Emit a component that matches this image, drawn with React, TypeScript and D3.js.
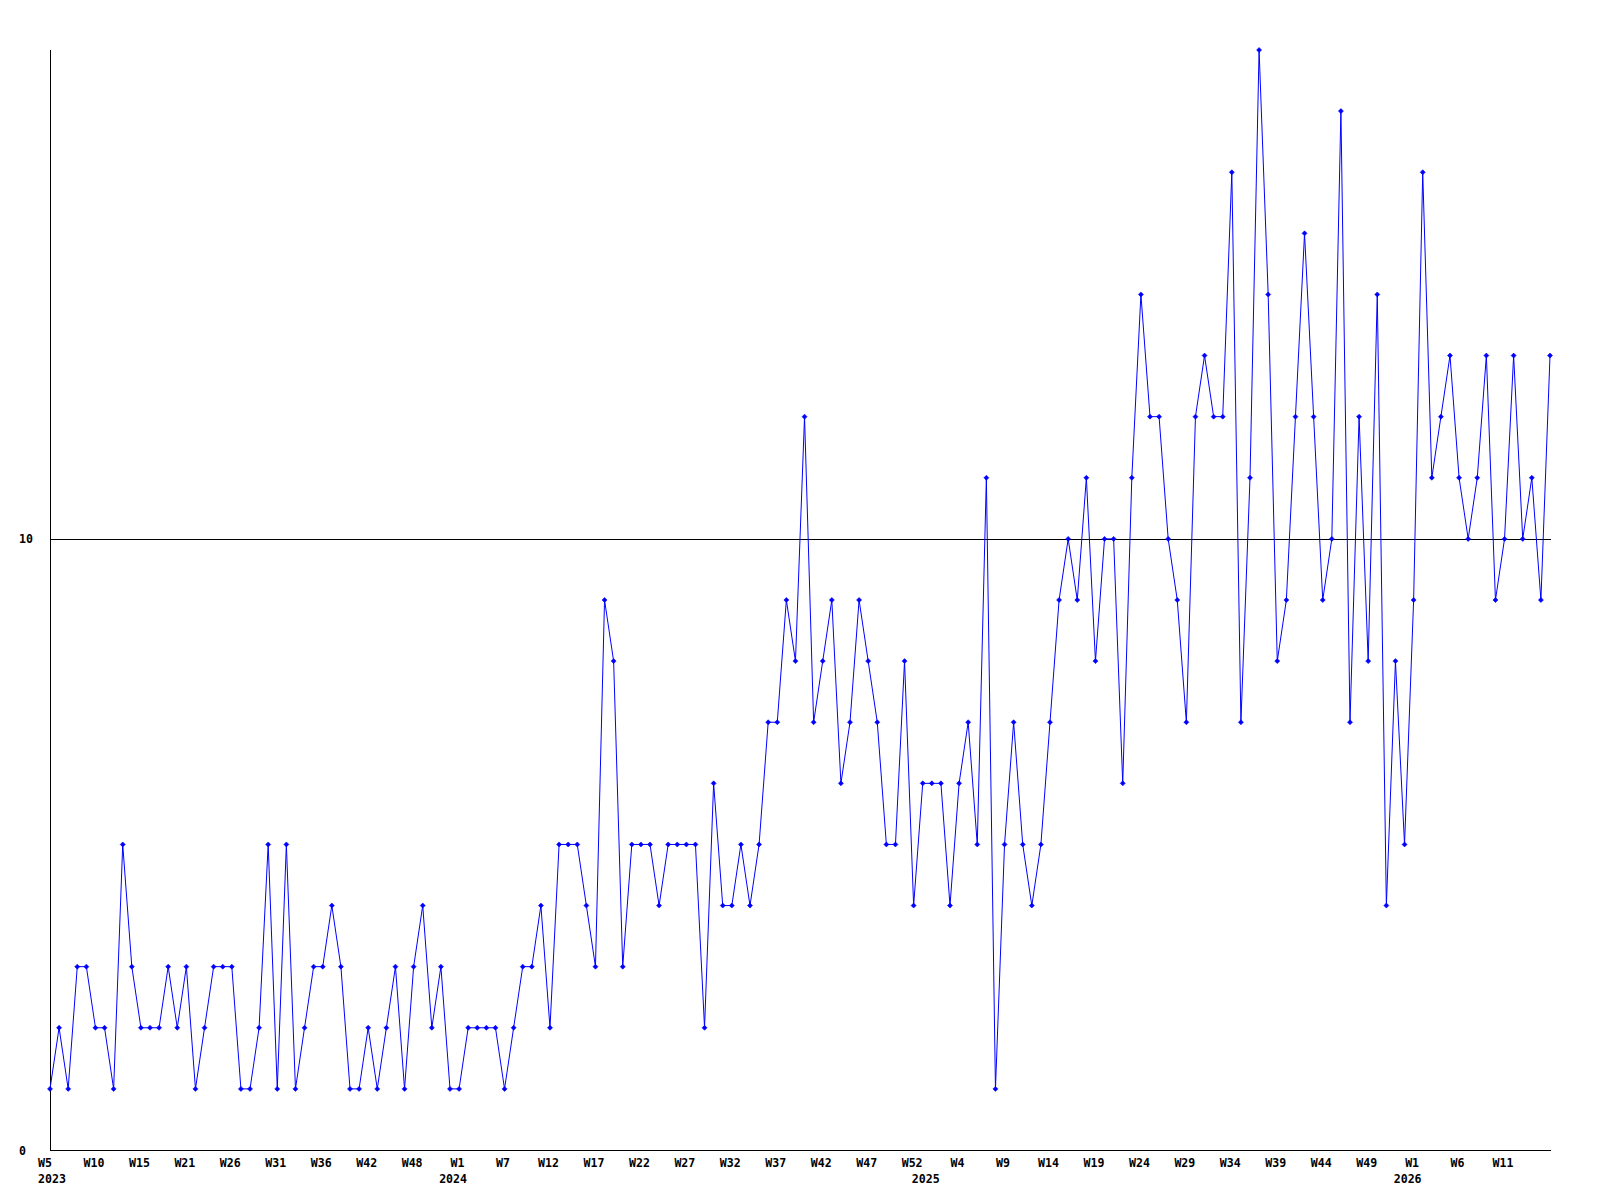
import React from "react";
import * as d3 from "d3";

// Weekly values, W5 2023 onward (one point per period)
const values: number[] = [
  1, 2, 1, 3, 3, 2, 2, 1, 5, 3,
  2, 2, 2, 3, 2, 3, 1, 2, 3, 3,
  3, 1, 1, 2, 5, 1, 5, 1, 2, 3,
  3, 4, 3, 1, 1, 2, 1, 2, 3, 1,
  3, 4, 2, 3, 1, 1, 2, 2, 2, 2,
  1, 2, 3, 3, 4, 2, 5, 5, 5, 4,
  3, 9, 8, 3, 5, 5, 5, 4, 5, 5,
  5, 5, 2, 6, 4, 4, 5, 4, 5, 7,
  7, 9, 8, 12, 7, 8, 9, 6, 7, 9,
  8, 7, 5, 5, 8, 4, 6, 6, 6, 4,
  6, 7, 5, 11, 1, 5, 7, 5, 4, 5,
  7, 9, 10, 9, 11, 8, 10, 10, 6, 11,
  14, 12, 12, 10, 9, 7, 12, 13, 12, 12,
  16, 7, 11, 18, 14, 8, 9, 12, 15, 12,
  9, 10, 17, 7, 12, 8, 14, 4, 8, 5,
  9, 16, 11, 12, 13, 11, 10, 11, 13, 9,
  10, 13, 10, 11, 9, 13,
];

// Week tick labels, every 5th point
const weekLabels: string[] = [
  "W5", "W10", "W15", "W21", "W26", "W31", "W36", "W42", "W48",
  "W1", "W7", "W12", "W17", "W22", "W27", "W32", "W37", "W42", "W47", "W52",
  "W4", "W9", "W14", "W19", "W24", "W29", "W34", "W39", "W44", "W49",
  "W1", "W6", "W11",
];
const weekLabelStep = 5;

// Year labels and the point index they sit under
const yearLabels: string[] = ["2023", "2024", "2025", "2026"];
const yearIndices: number[] = [0, 45, 97, 150];

// Y axis labels / gridlines
const yTicks: number[] = [0, 10];
const yMax = 18;

const W = 1600;
const H = 1200;
const left = 50;
const right = 1550;
const top = 50;
const bottom = 1150;
const FONT = "'DejaVu Sans Mono', monospace";
const FS = 11.6;

export default function App() {
  const x = d3.scaleLinear().domain([0, values.length - 1]).range([left, right]);
  const y = d3.scaleLinear().domain([0, yMax]).range([bottom, top]);

  const line = d3
    .line<number>()
    .x((_, i) => x(i))
    .y((d) => y(d));

  const firstLabelStart = x(0) - 12;

  return (
    <svg
      width={W}
      height={H}
      style={{ position: "absolute", left: 0, top: 0, background: "#fff" }}
      fontFamily={FONT}
    >
      <rect x={0} y={0} width={W} height={H} fill="#fff" />
      {/* gridlines */}
      {yTicks
        .filter((t) => t > 0)
        .map((t) => (
          <line
            key={"g" + t}
            x1={left}
            x2={right + 1}
            y1={Math.round(y(t)) + 0.5}
            y2={Math.round(y(t)) + 0.5}
            stroke="#000"
            strokeWidth={1}
            shapeRendering="crispEdges"
          />
        ))}
      {/* axes */}
      <line
        x1={left + 0.5}
        x2={left + 0.5}
        y1={top}
        y2={bottom + 1}
        stroke="#000"
        strokeWidth={1}
        shapeRendering="crispEdges"
      />
      <line
        x1={left}
        x2={right + 1}
        y1={bottom + 0.5}
        y2={bottom + 0.5}
        stroke="#000"
        strokeWidth={1}
        shapeRendering="crispEdges"
      />
      {/* y labels */}
      {yTicks.map((t) => (
        <text
          key={"y" + t}
          x={19}
          y={y(t) + 4.5}
          fontSize={FS}
          fontWeight="bold"
          fill="#000"
        >
          {t}
        </text>
      ))}
      {/* week labels */}
      {weekLabels.map((lab, k) => {
        const i = k * weekLabelStep;
        const first = k === 0;
        return (
          <text
            key={"w" + k}
            x={first ? firstLabelStart : x(i) - 1.5}
            y={1167}
            fontSize={FS}
            fontWeight="bold"
            textAnchor={first ? "start" : "middle"}
            fill="#000"
          >
            {lab}
          </text>
        );
      })}
      {/* year labels */}
      {yearLabels.map((lab, k) => {
        const i = yearIndices[k];
        const first = i === 0;
        return (
          <text
            key={"yr" + k}
            x={first ? firstLabelStart : x(i) - 6}
            y={1183}
            fontSize={FS}
            fontWeight="bold"
            textAnchor={first ? "start" : "middle"}
            fill="#000"
          >
            {lab}
          </text>
        );
      })}
      {/* data line */}
      <path d={line(values) || ""} fill="none" stroke="#0000ff" strokeWidth={1} />
      {/* markers */}
      {values.map((v, i) => {
        const cx = x(i);
        const cy = y(v);
        const r = 2.5;
        return (
          <path
            key={"m" + i}
            d={`M${cx - r},${cy}L${cx},${cy - r}L${cx + r},${cy}L${cx},${cy + r}Z`}
            fill="#0000ff"
            stroke="#0000ff"
            strokeWidth={0.6}
          />
        );
      })}
    </svg>
  );
}
